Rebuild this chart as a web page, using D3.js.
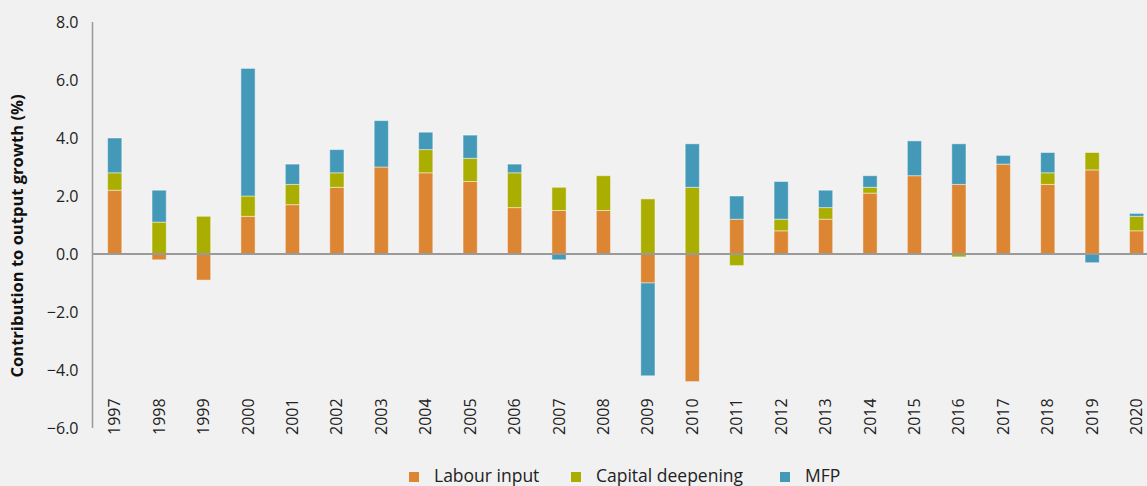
<!DOCTYPE html>
<html><head><meta charset="utf-8">
<script src="https://cdn.jsdelivr.net/npm/d3@7"></script>
<style>
html,body{margin:0;padding:0;background:#f1f1f1;}
svg{display:block;font-family:"Open Sans",sans-serif;}
</style></head>
<body><svg id="chart" width="1147" height="486"></svg>
<script>
const years = ["1997","1998","1999","2000","2001","2002","2003","2004","2005","2006","2007","2008","2009","2010","2011","2012","2013","2014","2015","2016","2017","2018","2019","2020"];
const labourInput      = [2.2,-0.2,-0.9,1.3,1.7,2.3,3.0,2.8,2.5,1.6,1.5,1.5,-1.0,-4.4,1.2,0.8,1.2,2.1,2.7,2.4,3.1,2.4,2.9,0.8];
const capitalDeepening = [0.6,1.1,1.3,0.7,0.7,0.5,0.0,0.8,0.8,1.2,0.8,1.2,1.9,2.3,-0.4,0.4,0.4,0.2,0.0,-0.1,0.0,0.4,0.6,0.5];
const mfp              = [1.2,1.1,0.0,4.4,0.7,0.8,1.6,0.6,0.8,0.3,-0.2,0.0,-3.2,1.5,0.8,1.3,0.6,0.4,1.2,1.4,0.3,0.7,-0.3,0.1];
const seriesNames = ["Labour input","Capital deepening","MFP"];
const yTicks = [-6,-4,-2,0,2,4,6,8];

const colors = ["#dc8634","#a9ae00","#4499b8"];
const FONT = "'Open Sans', sans-serif";
const svg = d3.select("#chart");
const x0 = 92.5, step = 44.43;
const x = d3.scaleBand().domain(years).range([x0, x0 + step*years.length]).paddingInner(0.68).paddingOuter(0.34);
const y = d3.scaleLinear().domain([-6,8]).range([428,22]);

const rows = years.map((yr,i)=>({year:yr,"Labour input":labourInput[i],"Capital deepening":capitalDeepening[i],"MFP":mfp[i]}));
const stack = d3.stack().keys(seriesNames).offset(d3.stackOffsetDiverging);
const layers = stack(rows);

// y axis
const yAxis = d3.axisLeft(y).tickValues(yTicks).tickFormat(d3.format(".1f")).tickSize(0).tickPadding(14);
const gy = svg.append("g").attr("transform",`translate(${x0},0)`).call(yAxis);
gy.select(".domain").remove();
gy.selectAll("text").attr("font-size",16).attr("fill","#222").attr("font-family",FONT);

// bars
svg.append("g").selectAll("g").data(layers).join("g")
  .attr("fill",(d,i)=>colors[i])
  .selectAll("rect").data(d=>d).join("rect")
  .attr("x",d=>x(d.data.year))
  .attr("width",x.bandwidth())
  .attr("y",d=>y(Math.max(d[0],d[1])))
  .attr("height",d=>Math.abs(y(d[0])-y(d[1])))
  .attr("stroke","rgba(255,255,255,0.45)").attr("stroke-width",1);

// axis lines
svg.append("line").attr("x1",x0).attr("x2",x0).attr("y1",y(8)).attr("y2",y(-6)).attr("stroke","#9a9a9a").attr("stroke-width",1.5);
svg.append("line").attr("x1",x0).attr("x2",1147).attr("y1",y(0)).attr("y2",y(0)).attr("stroke","#9a9a9a").attr("stroke-width",2);

// x axis labels
const xAxis = d3.axisBottom(x).tickSize(0).tickPadding(0);
const gx = svg.append("g").attr("transform","translate(0,435)").call(xAxis);
gx.select(".domain").remove();
gx.selectAll("text")
  .attr("font-size",16).attr("fill","#222").attr("font-family",FONT)
  .attr("text-anchor","start").attr("dy","0.35em").attr("y",0).attr("x",0)
  .attr("transform","rotate(-90)");

// y label
svg.append("text").attr("transform","translate(23,236) rotate(-90)")
  .attr("text-anchor","middle").attr("font-size",15.5).attr("font-weight","bold").attr("fill","#111")
  .attr("textLength",283).attr("lengthAdjust","spacingAndGlyphs")
  .text("Contribution to output growth (%)");

// legend
const legX = [409,571,780];
const leg = svg.append("g");
seriesNames.forEach((n,i)=>{
  leg.append("rect").attr("x",legX[i]).attr("y",472).attr("width",10).attr("height",10).attr("fill",colors[i]);
  leg.append("text").attr("x",legX[i]+25).attr("y",482).attr("font-size",17.5).attr("fill","#222").text(n);
});
</script></body></html>
